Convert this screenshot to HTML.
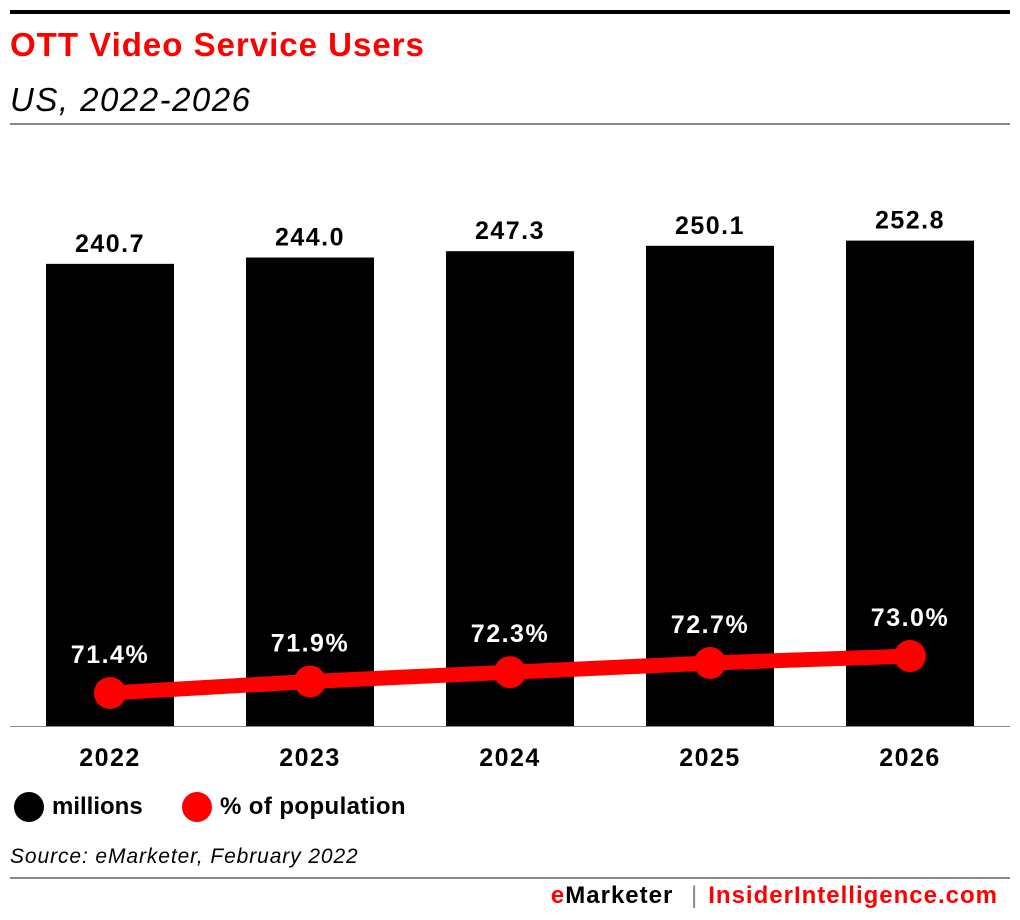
<!DOCTYPE html>
<html><head><meta charset="utf-8"><style>
body{margin:0;width:1020px;height:920px;background:#fff;font-family:"Liberation Sans",sans-serif;overflow:hidden;position:relative}
.a{position:absolute}
</style></head><body>
<div class="a" style="left:10px;top:10px;width:1000px;height:4px;background:#000"></div>
<div class="a" style="left:10px;top:26px;font-size:33px;font-weight:bold;color:#ff0000;letter-spacing:1px">OTT Video Service Users</div>
<div class="a" style="left:10px;top:81px;font-size:33px;font-style:italic;color:#000;letter-spacing:1.5px">US, 2022-2026</div>
<div class="a" style="left:10px;top:123px;width:1000px;height:2px;background:#888"></div>
<svg class="a" style="left:0;top:0" width="1020" height="920">
<g id="g"></g>
</svg>
<div class="a" style="left:14px;top:792px;font-size:24px;font-weight:bold;display:flex;align-items:center"><span style="display:inline-block;width:30px;height:30px;border-radius:50%;background:#000;margin-right:8px"></span>millions</div>
<div class="a" style="left:182px;top:792px;font-size:24px;font-weight:bold;display:flex;align-items:center;letter-spacing:0.4px"><span style="display:inline-block;width:30px;height:30px;border-radius:50%;background:#ff0000;margin-right:8px"></span>% of population</div>
<div class="a" style="left:10px;top:845px;font-size:21px;font-style:italic;letter-spacing:0.9px">Source: eMarketer, February 2022</div>
<div class="a" style="left:10px;top:877px;width:1000px;height:2px;background:#888"></div>
<div class="a" style="right:22px;top:882px;font-size:24px;font-weight:bold;letter-spacing:1px"><span style="color:#ff0000">e</span>Marketer <span style="color:#888;font-weight:normal;margin:0 10px">|</span><span style="color:#ff0000">InsiderIntelligence.com</span></div>
<script>
const categories=["2022","2023","2024","2025","2026"];
const millions=[240.7,244.0,247.3,250.1,252.8];
const pctLabels=["71.4%","71.9%","72.3%","72.7%","73.0%"];
const pct=[71.4,71.9,72.3,72.7,73.0];
const NS="http://www.w3.org/2000/svg";
const g=document.getElementById('g');
const base=726;
const xc=i=>110+i*200;
const yb=v=>base-v*1.92;
const yp=v=>693-(v-71.4)*23.1;
function mk(t,a){const e=document.createElementNS(NS,t);for(const k in a)e.setAttribute(k,a[k]);g.appendChild(e);return e;}
categories.forEach((c,i)=>{
 const r=mk('rect',{x:xc(i)-64,y:yb(millions[i]),width:128,height:base-yb(millions[i]),fill:'#000'});
 
 
 const t=mk('text',{x:xc(i),y:yb(millions[i])-12,'text-anchor':'middle','font-size':25,'font-weight':'bold','letter-spacing':1.5});
 t.textContent=millions[i].toFixed(1);
 
 
 const x=mk('text',{x:xc(i),y:766,'text-anchor':'middle','font-size':25,'font-weight':'bold','letter-spacing':1.5});
 x.textContent=c;
 
 
});
const ax=mk('rect',{x:10,y:base,width:1000,height:1,fill:'#888'});


const pl=mk('polyline',{points:pct.map((v,i)=>xc(i)+','+yp(v)).join(' '),fill:'none',stroke:'#ff0000','stroke-width':15});


pct.forEach((v,i)=>{
 const c=mk('circle',{cx:xc(i),cy:yp(v),r:16,fill:'#ff0000'});
 
 
 const t=mk('text',{x:xc(i),y:yp(v)-30,'text-anchor':'middle','font-size':25,'font-weight':'bold',fill:'#fff','letter-spacing':1.5});
 t.textContent=pctLabels[i];
 
 
});
</script>
</body></html>
